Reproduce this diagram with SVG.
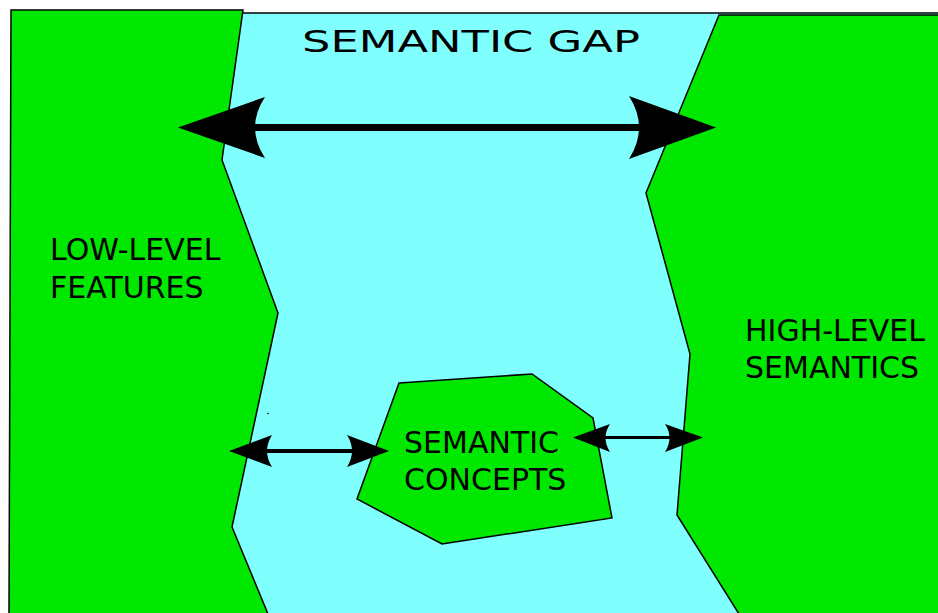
<svg xmlns="http://www.w3.org/2000/svg" width="938" height="613" viewBox="0 0 938 613">
<style>
.region{stroke:#000;stroke-width:1.5;stroke-linejoin:miter}
.green{fill:#00e800}
.cyan{fill:#80ffff}
.lbl{font-family:"DejaVu Sans",sans-serif;font-size:30px;fill:#000}
.head{fill:#000;stroke:none}
</style>
<rect width="938" height="613" fill="#fff"/>
<g id="gap">
<polygon class="region cyan" points="243,13 940,13 940,620 200,620 200,13"/>
<text class="lbl" x="302" y="52" textLength="338" lengthAdjust="spacingAndGlyphs">SEMANTIC GAP</text>
</g>
<g id="low-level">
<polygon class="region green" points="11,10 243,10 222,160 278,313 232,527 268,614 9,614"/>
<text class="lbl" x="50" y="260">LOW-LEVEL</text>
<text class="lbl" x="50" y="298">FEATURES</text>
</g>
<g id="high-level">
<polygon class="region green" points="719,15 940,15 940,614 739,614 677,515 690,354 646,193"/>
<text class="lbl" x="745" y="341">HIGH-LEVEL</text>
<text class="lbl" x="745" y="378">SEMANTICS</text>
</g>
<g id="concepts">
<polygon class="region green" points="399,383 532,374 593,418 612,518 442,544 357,499"/>
<text class="lbl" x="404" y="453">SEMANTIC</text>
<text class="lbl" x="404" y="490">CONCEPTS</text>
</g>
<g id="connectors">
<line x1="250" y1="127.5" x2="645" y2="127.5" stroke="#000" stroke-width="7"/>
<path class="head" d="M178,127.5 L265,97 Q245,127.5 265,158 Z"/>
<path class="head" d="M716,127.5 L629,96 Q649,127.5 629,159 Z"/>
<line x1="262" y1="451" x2="356" y2="451" stroke="#000" stroke-width="4"/>
<path class="head" d="M229,451 L272,435 Q262,451 272,467 Z"/>
<path class="head" d="M389,451 L347,435 Q357,451 347,467 Z"/>
<line x1="600" y1="437.5" x2="675" y2="437.5" stroke="#000" stroke-width="3"/>
<path class="head" d="M573,437.5 L610,424 Q601,437.5 610,452 Z"/>
<path class="head" d="M703,437.5 L665,424 Q674,437.5 665,452 Z"/>
</g>
<circle cx="268" cy="413.5" r="0.8" fill="#000"/>
</svg>
